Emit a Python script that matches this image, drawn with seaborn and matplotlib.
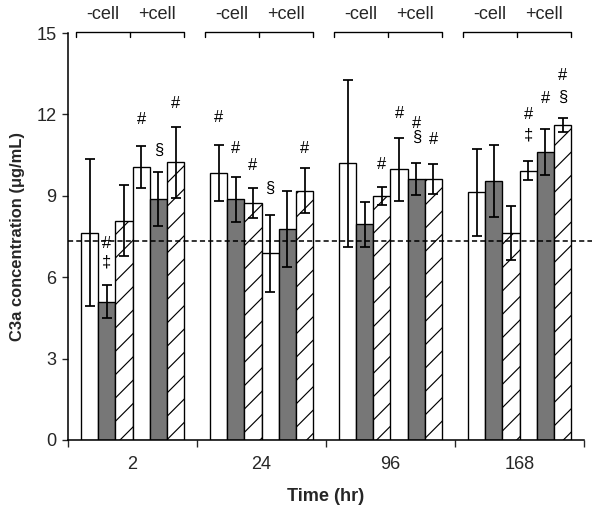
import numpy as np
import pandas as pd
import matplotlib
matplotlib.use("Agg")
import matplotlib.pyplot as plt
import seaborn as sns

# ---------------- data ----------------
times = ["2", "24", "96", "168"]
conditions = ["-cell 1", "-cell 2", "-cell 3", "+cell 1", "+cell 2", "+cell 3"]
means_2 = [7.64, 5.10, 8.08, 10.07, 8.87, 10.23]
means_24 = [9.85, 8.87, 8.72, 6.88, 7.77, 9.19]
means_96 = [10.20, 7.95, 8.99, 9.97, 9.62, 9.62]
means_168 = [9.13, 9.55, 7.64, 9.93, 10.60, 11.61]
err_2 = [2.70, 0.60, 1.30, 0.77, 1.00, 1.30]
err_24 = [1.03, 0.82, 0.55, 1.43, 1.40, 0.82]
err_96 = [3.07, 0.83, 0.33, 1.15, 0.60, 0.57]
err_168 = [1.60, 1.34, 1.00, 0.34, 0.85, 0.25]
baseline = 7.33
y_ticks = [0, 3, 6, 9, 12, 15]
bracket_labels = ["-cell", "+cell"]
# (time index, condition index, symbol, y value)
annotations = [
    (0, 1, "#", 7.26), (0, 1, "‡", 6.56), (0, 3, "#", 11.80), (0, 4, "§", 10.69),
    (0, 5, "#", 12.42),
    (1, 0, "#", 11.90), (1, 1, "#", 10.73), (1, 2, "#", 10.10), (1, 3, "§", 9.29),
    (1, 5, "#", 10.73),
    (2, 2, "#", 10.14), (2, 3, "#", 12.05), (2, 4, "#", 11.68), (2, 4, "§", 11.17),
    (2, 5, "#", 11.09),
    (3, 3, "#", 11.98), (3, 3, "‡", 11.24), (3, 4, "#", 12.60), (3, 5, "#", 13.42),
    (3, 5, "§", 12.64),
]

means = [means_2, means_24, means_96, means_168]
errs = [err_2, err_24, err_96, err_168]
rows = []
for t, m_row, e_row in zip(times, means, errs):
    for c, m, e in zip(conditions, m_row, e_row):
        rows.append({"time": t, "condition": c, "value": m, "err": e})
df = pd.DataFrame(rows)

# ---------------- style ----------------
sns.set_theme(style="white")
plt.rcParams["font.family"] = ["Liberation Sans", "DejaVu Sans"]
plt.rcParams["hatch.linewidth"] = 0.6

DPI = 140
FS = 9.3
fig = plt.figure(figsize=(600 / DPI, 511 / DPI), dpi=DPI)
ax = fig.add_axes([68 / 600, 1 - 440 / 511, 516 / 600, 407 / 511])

fills = ["white", "#777777", "white", "white", "#777777", "white"]
hatched = [False, False, True, False, False, True]

sns.barplot(data=df, x="time", y="value", hue="condition", order=times,
            hue_order=conditions, palette=fills, saturation=1, width=0.8,
            gap=0, errorbar=None, edgecolor="black", linewidth=0.7,
            legend=False, ax=ax)

centers = {}
for ci, cont in enumerate(ax.containers):
    for ti, bar in enumerate(cont):
        bar.set_edgecolor("black")
        if hatched[ci]:
            bar.set_hatch("//")
        centers[(ti, ci)] = bar.get_x() + bar.get_width() / 2

for ci, cond in enumerate(conditions):
    sub = df[df["condition"] == cond].set_index("time").loc[times]
    xs = [centers[(ti, ci)] for ti in range(len(times))]
    ax.errorbar(xs, sub["value"].values, yerr=sub["err"].values, fmt="none",
                ecolor="black", elinewidth=0.9, capsize=2.8, capthick=0.9,
                zorder=5)

ax.axhline(baseline, xmin=0, xmax=1.015, color="black", lw=0.8,
           dashes=(3.3, 2), clip_on=False, zorder=6)

for (ti, ci, sym, yv) in annotations:
    ax.text(centers[(ti, ci)], yv, sym, ha="center", va="center",
            fontsize=8.5, color="black")

# brackets on top
for ti in range(len(times)):
    c = ti - 0.02
    left, right, mid = c - 0.42, c + 0.42, c
    yb, yt = 14.85, 15.04
    ax.plot([left, left, right, right], [yb, yt, yt, yb], color="black",
            lw=0.7, clip_on=False)
    ax.plot([mid, mid], [yb, yt], color="black", lw=0.7, clip_on=False)
    ax.text((left + mid) / 2, 15.70, bracket_labels[0], ha="center",
            va="center", fontsize=FS)
    ax.text((mid + right) / 2, 15.70, bracket_labels[1], ha="center",
            va="center", fontsize=FS)

# axes
ax.set_xlim(-0.5, len(times) - 0.5)
ax.set_ylim(0, 15)
ax.set_yticks(y_ticks)
ax.set_yticklabels([str(v) for v in y_ticks], fontsize=FS)
ax.set_xticks(range(len(times)))
ax.set_xticklabels(times, fontsize=FS)
ax.set_xticks(np.arange(-0.5, len(times), 1.0), minor=True)
ax.tick_params(axis="x", which="major", length=0, pad=8)
ax.tick_params(axis="x", which="minor", length=3.5, width=0.7, direction="out",
               bottom=True)
ax.tick_params(axis="y", length=3, width=0.7, direction="out", left=True, pad=3)
for s in ["top", "right"]:
    ax.spines[s].set_visible(False)
for s in ["left", "bottom"]:
    ax.spines[s].set_color("black")
    ax.spines[s].set_linewidth(0.8)
ax.set_xlabel("Time (hr)", fontsize=FS, fontweight="bold", labelpad=8)
ax.set_ylabel("C3a concentration (μg/mL)", fontsize=8.5, fontweight="bold",
              labelpad=6)
ax.grid(False)

fig.savefig("out.png", dpi=DPI)
